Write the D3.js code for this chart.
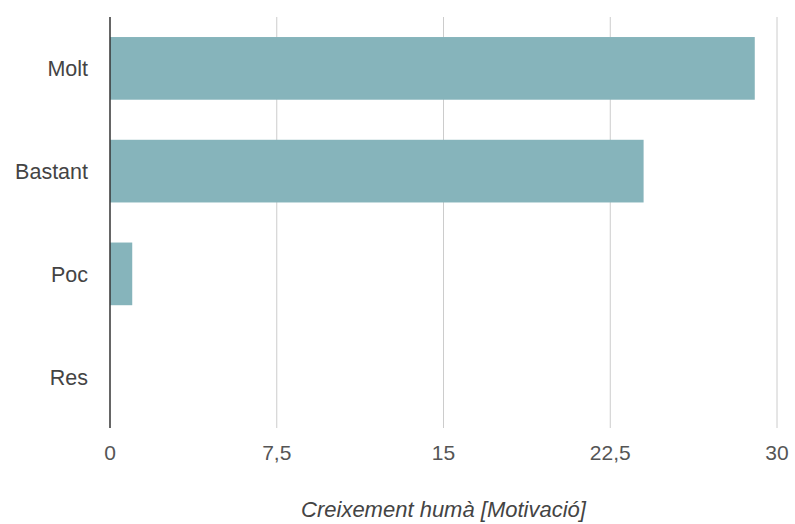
<!DOCTYPE html>
<html>
<head>
<meta charset="utf-8">
<script src="https://cdn.jsdelivr.net/npm/d3@7"></script>
<style>
  html, body { margin: 0; padding: 0; background: #fff; }
  text { font-family: "Liberation Sans", Arial, sans-serif; }
</style>
</head>
<body>
<svg id="chart" width="795" height="524"></svg>
<script>
const categories = ["Molt", "Bastant", "Poc", "Res"];
const values = [29, 24, 1, 0];
const tickValues = [0, 7.5, 15, 22.5, 30];
const tickLabels = ["0", "7,5", "15", "22,5", "30"];
const axisTitle = "Creixement humà [Motivació]";

(function () {
const svg = d3.select("#chart");
const mLeft = 110, mRight = 777, mTop = 17, mBottom = 428;

const x = d3.scaleLinear().domain([0, 30]).range([mLeft, mRight]);
const y = d3.scaleBand().domain(categories).range([mTop, mBottom])
  .paddingInner(0.39).paddingOuter(0.195);

// gridlines
svg.append("g").selectAll("line")
  .data(tickValues.filter(d => d > 0))
  .join("line")
  .attr("x1", d => x(d)).attr("x2", d => x(d))
  .attr("y1", mTop).attr("y2", mBottom)
  .attr("stroke", "#cccccc").attr("stroke-width", 1);

// bars
svg.append("g").selectAll("rect")
  .data(categories.map((c, i) => ({c, v: values[i]})))
  .join("rect")
  .attr("x", x(0))
  .attr("y", d => y(d.c))
  .attr("width", d => x(d.v) - x(0))
  .attr("height", y.bandwidth())
  .attr("fill", "#86b4bb");

// baseline axis line
svg.append("line")
  .attr("x1", x(0)).attr("x2", x(0))
  .attr("y1", mTop).attr("y2", mBottom)
  .attr("stroke", "#333").attr("stroke-width", 1.5);

// category labels
svg.append("g").selectAll("text")
  .data(categories)
  .join("text")
  .attr("x", 88)
  .attr("y", d => y(d) + y.bandwidth() / 2 + 8)
  .attr("text-anchor", "end")
  .attr("font-size", 21.5)
  .attr("fill", "#444")
  .text(d => d);

// tick labels
svg.append("g").selectAll("text")
  .data(tickValues)
  .join("text")
  .attr("x", d => x(d))
  .attr("y", 460)
  .attr("text-anchor", "middle")
  .attr("font-size", 21)
  .attr("fill", "#555")
  .text((d, i) => tickLabels[i]);

// axis title
svg.append("text")
  .attr("x", (mLeft + mRight) / 2)
  .attr("y", 517)
  .attr("text-anchor", "middle")
  .attr("font-size", 22)
  .attr("font-style", "italic")
  .attr("fill", "#444")
  .text(axisTitle);
})();
</script>
</body>
</html>
